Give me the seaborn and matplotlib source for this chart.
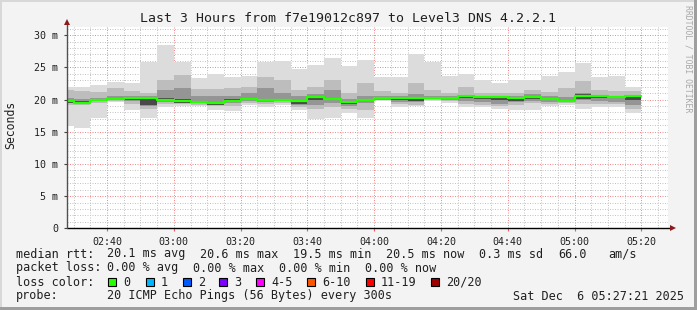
import numpy as np
import pandas as pd
import matplotlib
matplotlib.use("Agg")
import matplotlib.pyplot as plt
import seaborn as sns
from matplotlib.ticker import MultipleLocator, FuncFormatter
from matplotlib.patches import Rectangle

# ---------------- data ----------------
window_start = "02:28"
window_end = "05:28"
first_bar_start = "02:28"
bar_ends = pd.date_range("2025-12-06 02:30", "2025-12-06 05:20", freq="5min").strftime("%H:%M").tolist()

median_ms = [19.7, 19.5, 19.9, 20.1, 20.2, 20.3, 19.9, 19.8, 19.6, 19.5,
             19.8, 20.1, 19.9, 19.9, 19.8, 20.4, 20.1, 19.6, 20.0, 20.2,
             20.2, 20.3, 20.3, 20.3, 20.5, 20.4, 20.4, 20.3, 20.4, 20.1,
             19.8, 20.5, 20.5, 20.4, 20.5]
min_ms = [15.9, 15.5, 17.2, 19.6, 18.4, 17.2, 18.8, 19.0, 19.0, 18.4,
          18.2, 19.1, 18.9, 19.1, 18.4, 17.0, 17.2, 17.95, 17.2, 19.7,
          18.9, 19.0, 19.8, 19.4, 18.9, 18.9, 18.6, 18.3, 18.4, 19.0,
          19.1, 18.5, 18.9, 18.9, 17.95]
max_ms = [22.0, 21.9, 22.3, 22.7, 22.5, 25.9, 28.5, 25.9, 23.3, 23.9,
          23.5, 23.6, 25.9, 26.0, 24.7, 25.4, 26.4, 25.2, 26.1, 23.5,
          23.5, 27.0, 25.9, 23.6, 23.9, 23.1, 22.6, 23.0, 23.0, 23.6,
          24.3, 25.7, 23.5, 23.6, 22.0]
p10_ms = [19.2, 19.1, 19.5, 19.8, 19.3, 18.6, 19.3, 19.3, 19.2, 19.0,
          19.0, 19.4, 19.3, 19.5, 18.9, 18.6, 18.8, 18.6, 18.3, 19.9,
          19.3, 19.2, 20.0, 19.8, 19.3, 19.2, 19.0, 19.2, 19.4, 19.3,
          19.4, 19.3, 19.3, 19.3, 18.5]
p90_ms = [21.5, 21.3, 21.2, 21.8, 21.3, 21.0, 23.0, 23.8, 21.7, 21.6,
          21.8, 22.0, 23.5, 23.0, 21.5, 22.0, 23.0, 21.0, 22.5, 21.3,
          21.0, 22.5, 21.5, 21.0, 22.0, 21.0, 21.0, 21.0, 21.5, 21.2,
          21.8, 22.8, 21.5, 21.3, 21.3]
p25_ms = [19.4, 19.3, 19.7, 19.9, 19.8, 19.0, 19.6, 19.5, 19.4, 19.2,
          19.4, 19.7, 19.6, 19.7, 19.2, 19.2, 19.4, 19.0, 19.5, 20.0,
          19.6, 19.6, 20.1, 20.0, 19.7, 19.6, 19.3, 19.6, 19.8, 19.6,
          19.6, 19.9, 19.7, 19.6, 19.2]
p75_ms = [20.3, 20.0, 20.3, 20.6, 20.5, 20.6, 21.5, 21.8, 20.6, 20.5,
          20.6, 21.0, 21.8, 21.0, 20.5, 20.8, 21.5, 20.1, 20.5, 20.5,
          20.5, 20.8, 20.6, 20.5, 20.7, 20.6, 20.5, 20.5, 20.8, 20.5,
          20.4, 21.0, 20.7, 20.6, 20.7]
p45_ms = [19.5, 19.3, 19.8, 19.9, 20.0, 19.2, 19.7, 19.5, 19.5, 19.2,
          19.6, 19.9, 19.7, 19.8, 19.3, 19.9, 19.9, 19.3, 19.8, 20.1,
          19.9, 19.8, 20.2, 20.1, 20.2, 20.1, 20.0, 19.7, 20.1, 19.9,
          19.6, 20.1, 20.3, 20.2, 20.0]
p55_ms = [19.9, 19.7, 20.1, 20.3, 20.4, 20.4, 20.3, 20.0, 19.8, 19.6,
          20.0, 20.3, 20.1, 20.1, 19.8, 20.6, 20.3, 19.7, 20.1, 20.3,
          20.3, 20.4, 20.4, 20.4, 20.6, 20.5, 20.5, 20.3, 20.5, 20.2,
          19.9, 20.8, 20.6, 20.5, 20.6]

y_ticks = [0, 5, 10, 15, 20, 25, 30]
title = "Last 3 Hours from f7e19012c897 to Level3 DNS 4.2.2.1"
loss_labels = ["0", "1", "2", "3", "4-5", "6-10", "11-19", "20/20"]
loss_colors = ["#26ff00", "#00b8ff", "#0059ff", "#7e00ff", "#ff00ff", "#ff5500", "#ff0000", "#a10000"]

# ---------------- helpers ----------------
def to_min(s):
    h, m = s.split(":")
    return int(h) * 60 + int(m)

edges = np.array([to_min(first_bar_start)] + [to_min(t) for t in bar_ends], dtype=float)
lefts = edges[:-1]
widths = np.diff(edges)

W, H = 697, 310
sns.set_theme(style="white")
plt.rcParams["font.family"] = ["DejaVu Sans Mono", "DejaVu Sans"]

fig = plt.figure(figsize=(W / 100, H / 100), dpi=100)
fig.patch.set_facecolor("#f3f3f3")

def fx(px):
    return px / W

def fy(py):
    return 1 - py / H

x0, x1, ytop, ybot = 67, 668, 26.5, 228.3
ax = fig.add_axes([fx(x0), fy(ybot), fx(x1) - fx(x0), fy(ytop) - fy(ybot)])
ax.set_facecolor("white")
ax.set_xlim(to_min(window_start), to_min(window_end))
ax.set_ylim(0, (ybot - ytop) / 6.44)
for s in ax.spines.values():
    s.set_visible(False)

# grid (dotted, like rrdtool)
ax.xaxis.set_major_locator(MultipleLocator(20))
ax.xaxis.set_minor_locator(MultipleLocator(5))
ax.yaxis.set_major_locator(MultipleLocator(5))
ax.yaxis.set_minor_locator(MultipleLocator(1))
ax.grid(which="minor", color="#c4c4c4", linestyle=(0, (1, 1.5)), linewidth=0.72, zorder=0)
ax.grid(which="major", color="#f08c8c", linestyle=(0, (1, 1.5)), linewidth=0.72, zorder=0)
ax.set_axisbelow(True)

# smoke layers
layers = [(min_ms, max_ms, "#dcdcdc"), (p10_ms, p90_ms, "#bdbdbd"),
          (p25_ms, p75_ms, "#959595"), (p45_ms, p55_ms, "#4a4a4a")]
for lo, hi, col in layers:
    lo = np.array(lo)
    hi = np.array(hi)
    ax.bar(lefts, hi - lo, bottom=lo, width=widths, align="edge",
           color=col, linewidth=0, zorder=2)

# median line
med_df = pd.DataFrame({"t": edges, "ms": median_ms + [median_ms[-1]]})
sns.lineplot(data=med_df, x="t", y="ms", drawstyle="steps-post", color="#26ff00",
             linewidth=1.6, estimator=None, sort=False, ax=ax, zorder=4)
ax.set_xlabel("")
ax.set_ylabel("")

# ticks
ax.xaxis.set_major_formatter(FuncFormatter(lambda v, p: f"{int(v)//60:02d}:{int(v)%60:02d}"))
ax.yaxis.set_major_formatter(FuncFormatter(lambda v, p: "0" if v == 0 else f"{int(v)} m"))
ax.set_yticks(y_ticks)
ax.tick_params(axis="x", which="major", length=2.5, width=0.8, color="#e06060", direction="out",
               pad=3.5, labelsize=7.2, labelcolor="#202020")
ax.tick_params(axis="y", which="major", length=2.5, width=0.8, color="#404040", direction="out",
               pad=4.0, labelsize=7.2, labelcolor="#202020")
ax.tick_params(which="minor", length=0)
ax.tick_params(axis="x", bottom=True)
ax.tick_params(axis="y", left=True)

# axes lines with arrows
ax.plot([0, 1.003], [0, 0], transform=ax.transAxes, color="black", lw=1.0, clip_on=False, zorder=6)
ax.plot([1.0075], [0], transform=ax.transAxes, marker=">", color="#8b1a1a", markersize=4.2,
        clip_on=False, zorder=7, markeredgewidth=0)
ax.plot([0, 0], [0, 1.01], transform=ax.transAxes, color="#505050", lw=1.0, clip_on=False, zorder=6)
ax.plot([0], [1.022], transform=ax.transAxes, marker="^", color="#8b1a1a", markersize=4.2,
        clip_on=False, zorder=7, markeredgewidth=0)

# title and labels
fig.text(fx(348), fy(19), title, ha="center", va="center", fontsize=9.5, color="#202020")
fig.text(fx(11), fy(125), "Seconds", rotation=90, ha="center", va="center", fontsize=8.3, color="#202020")
fig.text(fx(688), fy(59), "RRDTOOL / TOBI OETIKER", rotation=270, ha="center", va="center",
         fontsize=5.9, color="#a8a8a8")

# legend rows
fs = 8.5
tc = "#202020"
def t(x, y, s, **kw):
    fig.text(fx(x), fy(y), s, ha="left", va="center", fontsize=fs, color=tc, **kw)

t(16, 254, "median rtt:")
t(107, 254, "20.1 ms avg")
t(200, 254, "20.6 ms max")
t(293, 254, "19.5 ms min")
t(386, 254, "20.5 ms now")
t(479, 254, "0.3 ms sd")
t(558, 254, "66.0")
t(608, 254, "am/s")

t(16, 268, "packet loss:")
t(107, 268, "0.00 % avg")
t(193, 268, "0.00 % max")
t(279, 268, "0.00 % min")
t(365, 268, "0.00 % now")

t(16, 282, "loss color:")
box_x = [108, 146, 183, 219, 256, 307, 366, 431]
for bx, lab, col in zip(box_x, loss_labels, loss_colors):
    fig.patches.append(Rectangle((fx(bx), fy(286)), fx(8), 8 / H, transform=fig.transFigure,
                                 facecolor=col, edgecolor="black", linewidth=0.8))
    t(bx + 15, 282, lab)

t(16, 296, "probe:")
t(107, 296, "20 ICMP Echo Pings (56 Bytes) every 300s")
t(513, 296, "Sat Dec  6 05:27:21 2025")

# frame shading
fig.patches.append(Rectangle((0, 1 - 2 / H), 1, 2 / H, transform=fig.transFigure, facecolor="#d8d8d8", lw=0))
fig.patches.append(Rectangle((0, 0), 2 / W, 1, transform=fig.transFigure, facecolor="#d8d8d8", lw=0))
fig.patches.append(Rectangle((1 - 3 / W, 0), 3 / W, 1, transform=fig.transFigure, facecolor="#9e9e9e", lw=0))
fig.patches.append(Rectangle((0, 0), 1, 3 / H, transform=fig.transFigure, facecolor="#9e9e9e", lw=0))

fig.savefig("out.png", dpi=100, facecolor=fig.get_facecolor())
